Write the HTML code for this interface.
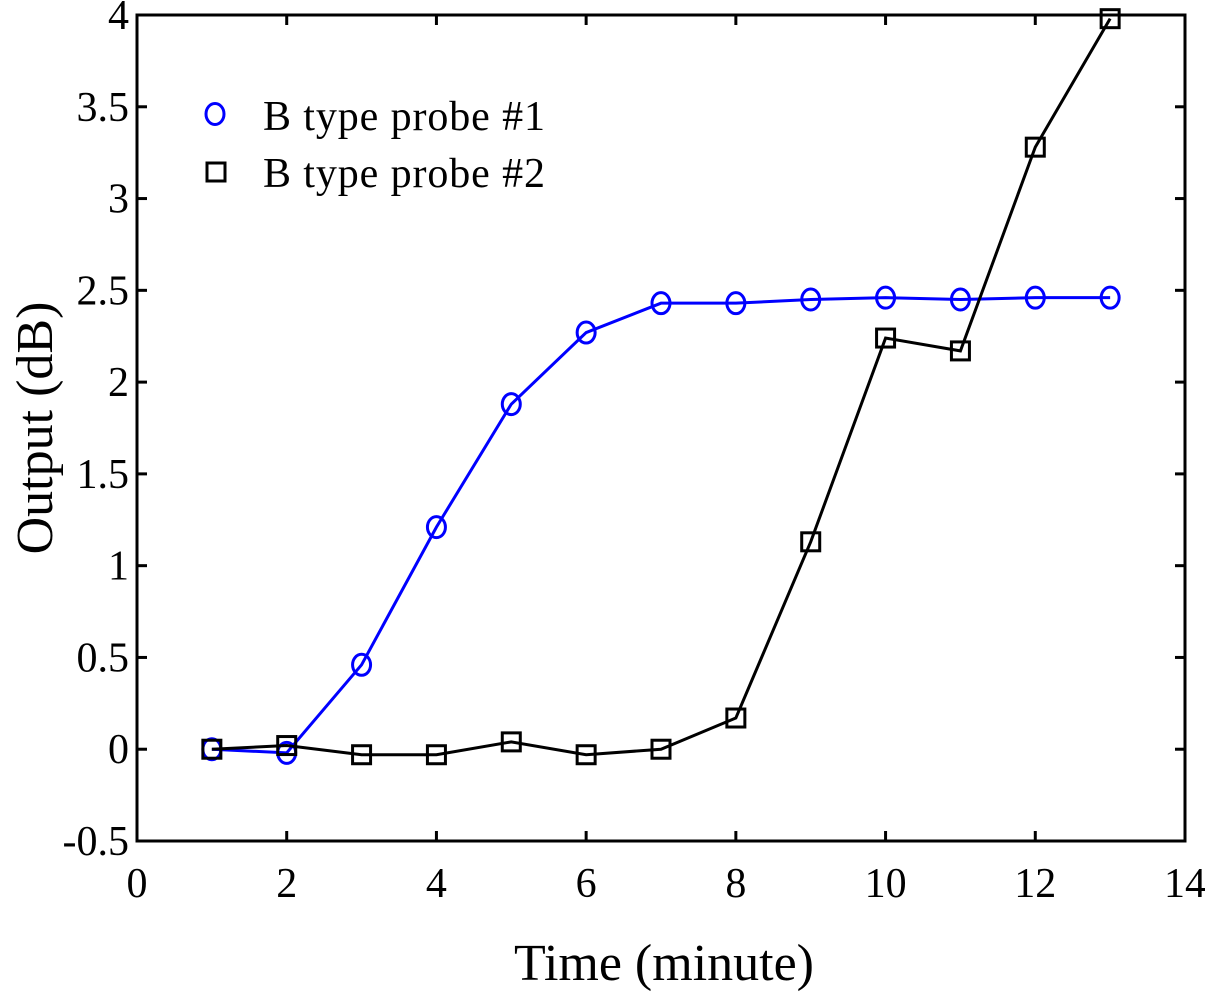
<!DOCTYPE html>
<html><head><meta charset="utf-8"><style>
html,body{margin:0;padding:0;background:#fff;}
svg text{font-family:"Liberation Serif",serif;fill:#000;}
</style></head><body>
<svg id="chart" width="1205" height="1000" xmlns="http://www.w3.org/2000/svg">
<g id="plot"></g>
</svg>
<script>
const xTicks=[0,2,4,6,8,10,12,14];
const yTicks=[-0.5,0,0.5,1,1.5,2,2.5,3,3.5,4];
const yTickLabels=["-0.5","0","0.5","1","1.5","2","2.5","3","3.5","4"];
const times=[1,2,3,4,5,6,7,8,9,10,11,12,13];
const probe1=[0,-0.02,0.46,1.21,1.88,2.27,2.43,2.43,2.45,2.46,2.45,2.46,2.46];
const probe2=[0,0.02,-0.03,-0.03,0.04,-0.03,0,0.17,1.13,2.24,2.17,3.28,3.98];

const L=137,R=1185,T=15,B=841;
const xs=v=>L+(v-0)/(14-0)*(R-L);
const ys=v=>B-(v+0.5)/(4.5)*(B-T);
const NS="http://www.w3.org/2000/svg";
const g=document.getElementById('plot');
function mk(tag,attrs,parent){const e=document.createElementNS(NS,tag);for(const k in attrs)e.setAttribute(k,attrs[k]);(parent||g).appendChild(e);return e;}

const frame=mk('rect',{x:L,y:T,width:R-L,height:B-T,fill:'none',stroke:'#000','stroke-width':3});



xTicks.forEach(v=>{
  const x=xs(v);
  const t1=mk('line',{x1:x,y1:B,x2:x,y2:B-10,stroke:'#000','stroke-width':3});
  
  
  const t2=mk('line',{x1:x,y1:T,x2:x,y2:T+10,stroke:'#000','stroke-width':3});
  
  
  const lb=mk('text',{x:x,y:B+56,'font-size':42,'text-anchor':'middle'});
  lb.textContent=v;
  
  
});
yTicks.forEach((v,i)=>{
  const y=ys(v);
  const t1=mk('line',{x1:L,y1:y,x2:L+10,y2:y,stroke:'#000','stroke-width':3});
  
  
  const t2=mk('line',{x1:R,y1:y,x2:R-10,y2:y,stroke:'#000','stroke-width':3});
  
  
  const lb=mk('text',{x:L-8,y:y+14,'font-size':42,'text-anchor':'end'});
  lb.textContent=yTickLabels[i];
  
  
});

function series(data,color,marker,name){
  const pts=times.map((t,i)=>xs(t)+','+ys(data[i])).join(' ');
  const pl=mk('polyline',{points:pts,fill:'none',stroke:color,'stroke-width':3});
  
  
  times.forEach((t,i)=>{
    let m;
    if(marker==='circle') m=mk('ellipse',{cx:xs(t),cy:ys(data[i]),rx:9,ry:10.5,fill:'none',stroke:color,'stroke-width':3});
    else m=mk('rect',{x:xs(t)-9,y:ys(data[i])-9,width:18,height:18,fill:'none',stroke:color,'stroke-width':3});
    
    
  });
}
series(probe1,'#0000ff','circle','probe1');
series(probe2,'#000000','square','probe2');

const lc=mk('ellipse',{cx:215,cy:114,rx:9,ry:10.5,fill:'none',stroke:'#0000ff','stroke-width':3});


const lt1=mk('text',{x:263,y:130,'font-size':42,textLength:282,lengthAdjust:'spacing'});
lt1.textContent='B type probe #1';


const ls=mk('rect',{x:207,y:163,width:18,height:18,fill:'none',stroke:'#000','stroke-width':3});


const lt2=mk('text',{x:263,y:187,'font-size':42,textLength:282,lengthAdjust:'spacing'});
lt2.textContent='B type probe #2';



const xt=mk('text',{x:664,y:980,'font-size':52,'text-anchor':'middle'});
xt.textContent='Time (minute)';


const yt=mk('text',{x:0,y:0,'font-size':52,'text-anchor':'middle',transform:'translate(52,428) rotate(-90)'});
yt.textContent='Output (dB)';


</script>
</body></html>
